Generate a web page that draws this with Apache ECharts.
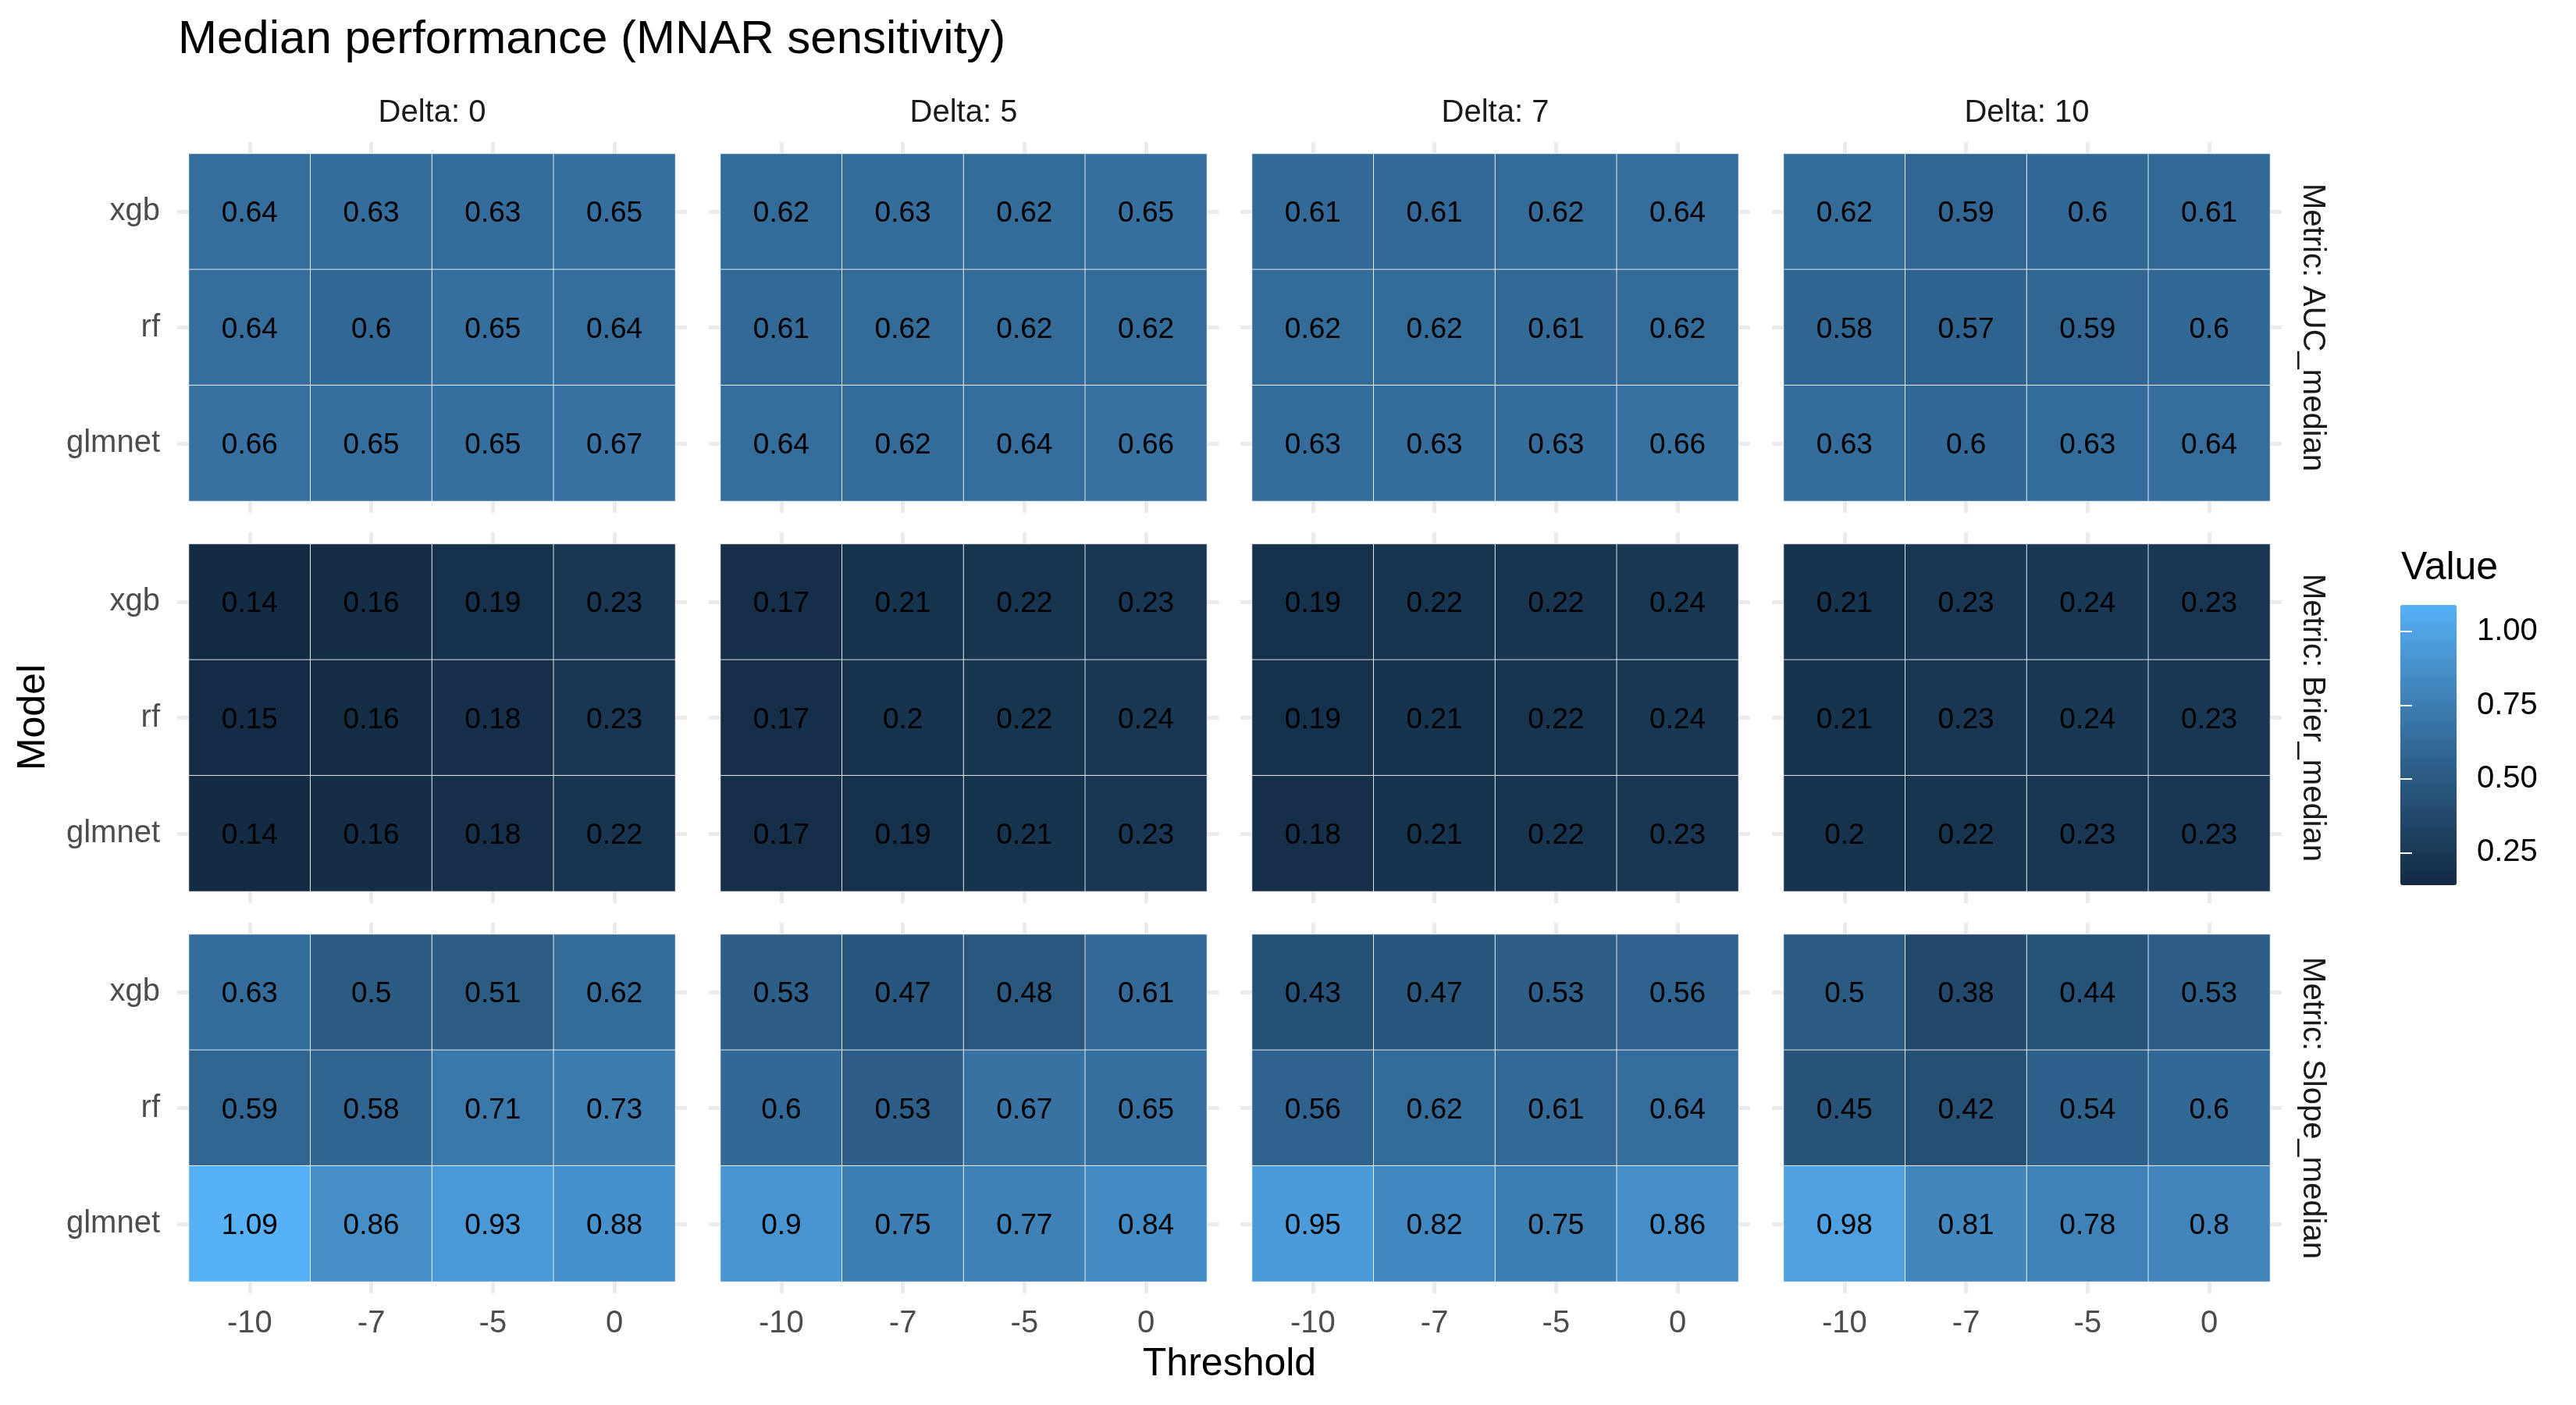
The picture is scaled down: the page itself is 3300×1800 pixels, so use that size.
<!DOCTYPE html>
<html>
<head>
<meta charset="utf-8">
<title>Median performance (MNAR sensitivity)</title>
<script src="https://cdn.jsdelivr.net/npm/echarts@6/dist/echarts.min.js"></script>
<style>
    html, body { margin: 0; padding: 0; background: #fff; }
    #main { width: 3300px; height: 1800px; }
</style>
</head>
<body>
<div id="main"></div>
<script>
var thresholds = ['-10', '-7', '-5', '0'];
var deltas = ['0', '5', '7', '10'];
var metrics = ['AUC_median', 'Brier_median', 'Slope_median'];
// rows as drawn from top to bottom
var rowModels = ['xgb', 'rf', 'glmnet'];
var legendTicks = [0.25, 0.5, 0.75, 1];

// one block per delta (0, 5, 7, 10), rows xgb / rf / glmnet, columns = thresholds
var aucMedian = [
    [[0.64, 0.63, 0.63, 0.65], [0.64, 0.6, 0.65, 0.64], [0.66, 0.65, 0.65, 0.67]],
    [[0.62, 0.63, 0.62, 0.65], [0.61, 0.62, 0.62, 0.62], [0.64, 0.62, 0.64, 0.66]],
    [[0.61, 0.61, 0.62, 0.64], [0.62, 0.62, 0.61, 0.62], [0.63, 0.63, 0.63, 0.66]],
    [[0.62, 0.59, 0.6, 0.61], [0.58, 0.57, 0.59, 0.6], [0.63, 0.6, 0.63, 0.64]]
];
var brierMedian = [
    [[0.14, 0.16, 0.19, 0.23], [0.15, 0.16, 0.18, 0.23], [0.14, 0.16, 0.18, 0.22]],
    [[0.17, 0.21, 0.22, 0.23], [0.17, 0.2, 0.22, 0.24], [0.17, 0.19, 0.21, 0.23]],
    [[0.19, 0.22, 0.22, 0.24], [0.19, 0.21, 0.22, 0.24], [0.18, 0.21, 0.22, 0.23]],
    [[0.21, 0.23, 0.24, 0.23], [0.21, 0.23, 0.24, 0.23], [0.2, 0.22, 0.23, 0.23]]
];
var slopeMedian = [
    [[0.63, 0.5, 0.51, 0.62], [0.59, 0.58, 0.71, 0.73], [1.09, 0.86, 0.93, 0.88]],
    [[0.53, 0.47, 0.48, 0.61], [0.6, 0.53, 0.67, 0.65], [0.9, 0.75, 0.77, 0.84]],
    [[0.43, 0.47, 0.53, 0.56], [0.56, 0.62, 0.61, 0.64], [0.95, 0.82, 0.75, 0.86]],
    [[0.5, 0.38, 0.44, 0.53], [0.45, 0.42, 0.54, 0.6], [0.98, 0.81, 0.78, 0.8]]
];
var metricValues = [aucMedian, brierMedian, slopeMedian];

var FONT = '"Liberation Sans", Arial, sans-serif';

// ggplot gradient #132B43 -> #56B1F7 is interpolated in Lab
function hexToLab(hex) {
    var rgb = [1, 3, 5].map(function (i) {
        var c = parseInt(hex.substr(i, 2), 16) / 255;
        return c <= 0.04045 ? c / 12.92 : Math.pow((c + 0.055) / 1.055, 2.4);
    });
    var x = (0.4124564 * rgb[0] + 0.3575761 * rgb[1] + 0.1804375 * rgb[2]) / 0.95047;
    var y = 0.2126729 * rgb[0] + 0.7151522 * rgb[1] + 0.0721750 * rgb[2];
    var z = (0.0193339 * rgb[0] + 0.1191920 * rgb[1] + 0.9503041 * rgb[2]) / 1.08883;
    var f = function (t) { return t > 0.008856 ? Math.cbrt(t) : 7.787 * t + 16 / 116; };
    return [116 * f(y) - 16, 500 * (f(x) - f(y)), 200 * (f(y) - f(z))];
}

function labToHex(lab) {
    var fy = (lab[0] + 16) / 116, fx = lab[1] / 500 + fy, fz = fy - lab[2] / 200;
    var inv = function (t) { return t * t * t > 0.008856 ? t * t * t : (t - 16 / 116) / 7.787; };
    var x = inv(fx) * 0.95047, y = inv(fy), z = inv(fz) * 1.08883;
    var lin = [
        3.2404542 * x - 1.5371385 * y - 0.4985314 * z,
        -0.9692660 * x + 1.8760108 * y + 0.0415560 * z,
        0.0556434 * x - 0.2040259 * y + 1.0572252 * z
    ];
    return '#' + lin.map(function (c) {
        c = c <= 0.0031308 ? 12.92 * c : 1.055 * Math.pow(c, 1 / 2.4) - 0.055;
        c = Math.round(Math.min(1, Math.max(0, c)) * 255);
        return (c < 16 ? '0' : '') + c.toString(16);
    }).join('');
}

function gradientStops(low, high, n) {
    var a = hexToLab(low), b = hexToLab(high), out = [];
    for (var i = 0; i < n; i++) {
        var t = i / (n - 1);
        out.push(labToHex([a[0] + (b[0] - a[0]) * t, a[1] + (b[1] - a[1]) * t, a[2] + (b[2] - a[2]) * t]));
    }
    return out;
}

// panel layout (tile area of each facet)
var panelLeft = 242, panelTop = 197, panelW = 623, panelH = 445, colStep = 681, rowStep = 500;

var grids = [], xAxes = [], yAxes = [], series = [];
var allValues = [];
var gridTick = { show: true, alignWithLabel: true, length: 15, lineStyle: { color: '#EBEBEB', width: 5 } };
var yCats = rowModels.slice().reverse();   // glmnet at the bottom

for (var r = 0; r < metrics.length; r++) {
    for (var c = 0; c < deltas.length; c++) {
        var gi = grids.length;
        grids.push({ left: panelLeft + c * colStep, top: panelTop + r * rowStep, width: panelW, height: panelH });

        xAxes.push({
            gridIndex: gi, type: 'category', data: thresholds, position: 'bottom',
            axisLine: { show: false }, axisTick: gridTick, splitLine: { show: false },
            axisLabel: { show: r === metrics.length - 1, fontSize: 40, color: '#4D4D4D', fontFamily: FONT, margin: 34 }
        });
        xAxes.push({
            gridIndex: gi, type: 'category', data: thresholds, position: 'top',
            axisLine: { show: false }, axisTick: gridTick, axisLabel: { show: false }, splitLine: { show: false }
        });
        yAxes.push({
            gridIndex: gi, type: 'category', data: yCats, position: 'left',
            axisLine: { show: false }, axisTick: gridTick, splitLine: { show: false },
            axisLabel: {
                show: c === 0, fontSize: 40, color: '#4D4D4D', fontFamily: FONT, margin: 37,
                padding: [6, 0, 0, 0]
            }
        });
        yAxes.push({
            gridIndex: gi, type: 'category', data: yCats, position: 'right',
            axisLine: { show: false }, axisTick: gridTick, axisLabel: { show: false }, splitLine: { show: false }
        });

        var block = metricValues[r][c], data = [];
        for (var m = 0; m < rowModels.length; m++) {
            for (var t = 0; t < thresholds.length; t++) {
                data.push([t, yCats.indexOf(rowModels[m]), block[m][t]]);
                allValues.push(block[m][t]);
            }
        }
        series.push({
            type: 'heatmap',
            xAxisIndex: gi * 2,
            yAxisIndex: gi * 2,
            data: data,
            itemStyle: { borderColor: 'rgba(255,255,255,0.85)', borderWidth: 1 },
            label: {
                show: true, fontSize: 37, color: '#000', fontFamily: FONT, offset: [0, 3],
                formatter: function (p) { return String(p.value[2]); }
            },
            emphasis: { disabled: true }
        });
    }
}

var vmin = Math.min.apply(null, allValues);
var vmax = Math.max.apply(null, allValues);

// colour bar box
var barLeft = 3075, barTop = 775, barW = 72, barH = 359;

// legend axis sits on top of the colour bar
var legendGrid = grids.length;
grids.push({ left: barLeft, top: barTop, width: barW, height: barH });
xAxes.push({ gridIndex: legendGrid, type: 'value', show: false });
yAxes.push({
    gridIndex: legendGrid, type: 'value', min: vmin, max: vmax, position: 'right', z: 10,
    axisLine: { show: false }, splitLine: { show: false },
    axisTick: { show: true, inside: true, length: 15, customValues: legendTicks, lineStyle: { color: '#fff', width: 2 } },
    axisLabel: {
        show: true, customValues: legendTicks, fontSize: 40, color: '#000', fontFamily: FONT, margin: 26,
        formatter: function (v) { return v.toFixed(2); }
    }
});
yAxes.push({
    gridIndex: legendGrid, type: 'value', min: vmin, max: vmax, position: 'left', z: 10,
    axisLine: { show: false }, splitLine: { show: false }, axisLabel: { show: false },
    axisTick: { show: true, inside: true, length: 15, customValues: legendTicks, lineStyle: { color: '#fff', width: 2 } }
});

var graphics = [];
for (var c2 = 0; c2 < deltas.length; c2++) {
    graphics.push({
        type: 'text', x: panelLeft + c2 * colStep + panelW / 2, y: 145,
        style: { text: 'Delta: ' + deltas[c2], fontSize: 40, fill: '#1A1A1A', fontFamily: FONT, align: 'center', verticalAlign: 'middle' }
    });
}
for (var r2 = 0; r2 < metrics.length; r2++) {
    graphics.push({
        type: 'text', x: 2962, y: panelTop + r2 * rowStep + panelH / 2, rotation: -Math.PI / 2,
        style: { text: 'Metric: ' + metrics[r2], fontSize: 40, fill: '#1A1A1A', fontFamily: FONT, align: 'center', verticalAlign: 'middle' }
    });
}
graphics.push({
    type: 'text', x: 43, y: 919, rotation: Math.PI / 2,
    style: { text: 'Model', fontSize: 50, fill: '#000', fontFamily: FONT, align: 'center', verticalAlign: 'middle' }
});
graphics.push({
    type: 'text', x: 1575, y: 1748,
    style: { text: 'Threshold', fontSize: 50, fill: '#000', fontFamily: FONT, align: 'center', verticalAlign: 'middle' }
});
graphics.push({
    type: 'text', x: 3076, y: 728,
    style: { text: 'Value', fontSize: 50, fill: '#000', fontFamily: FONT, align: 'left', verticalAlign: 'middle' }
});

var myChart = echarts.init(document.getElementById('main'), null, { renderer: 'canvas' });
var option = {
    backgroundColor: '#fff',
    animation: false,
    title: {
        text: 'Median performance (MNAR sensitivity)',
        left: 228, top: 21, padding: 0,
        textStyle: { fontSize: 60, fontWeight: 'normal', color: '#000', fontFamily: FONT }
    },
    grid: grids,
    xAxis: xAxes,
    yAxis: yAxes,
    visualMap: {
        type: 'continuous',
        min: vmin, max: vmax,
        seriesIndex: series.map(function (s, i) { return i; }),
        inRange: { color: gradientStops('#132B43', '#56B1F7', 21) },
        orient: 'vertical',
        left: barLeft, top: barTop,
        itemWidth: barW, itemHeight: barH,
        padding: 0,
        calculable: false,
        hoverLink: false,
        text: null,
        z: 4
    },
    graphic: graphics,
    series: series
};
myChart.setOption(option);
</script>
</body>
</html>
